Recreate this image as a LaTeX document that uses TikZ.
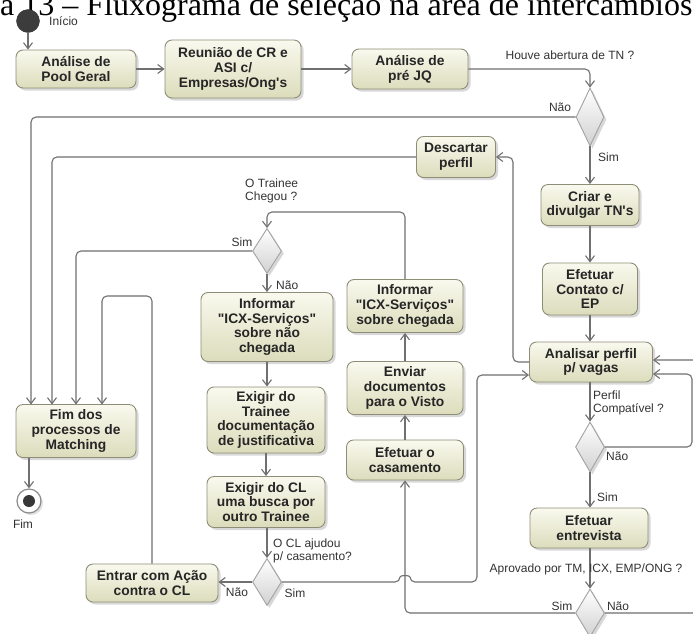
\documentclass[tikz,border=0pt]{standalone}
\usepackage{fontspec}
\setmainfont{Liberation Sans}
\newfontfamily\titlefont{Liberation Serif}
\usetikzlibrary{arrows.meta,shapes.geometric,shadows,calc}

\definecolor{boxtop}{HTML}{F9F9EE}
\definecolor{boxbot}{HTML}{DCDCBC}
\definecolor{boxline}{HTML}{8E8E78}
\definecolor{decline}{HTML}{A2A2A2}
\definecolor{flowcol}{HTML}{707070}
\definecolor{startcol}{HTML}{3C3C3C}

\newcommand\boxfont{\bfseries\fontsize{13.8}{14.8}\selectfont}
\newcommand\lblfont{\fontsize{12}{13}\selectfont}
\newcommand\dq{\textquotedbl}
\newcommand\sq{\textquotesingle}

\tikzset{
  act/.style={rectangle, rounded corners=7pt, draw=boxline, line width=0.9pt,
    top color=boxtop, bottom color=boxbot, align=center, inner sep=2pt,
    font=\boxfont, text=black!85,
    drop shadow={shadow xshift=2.5pt, shadow yshift=-2.5pt, opacity=0.3}},
  dec/.style={diamond, draw=decline, line width=0.9pt, inner sep=0pt,
    top color=white, bottom color=black!18,
    drop shadow={shadow xshift=2.5pt, shadow yshift=-2.5pt, opacity=0.3}},
  flow/.style={draw=flowcol, line width=1.1pt, rounded corners=5pt,
    -{Straight Barb[length=6pt,width=9pt]}},
  lbl/.style={font=\lblfont, text=black!80, inner sep=0pt},
}

\begin{document}
\begin{tikzpicture}[x=1pt,y=-1pt]
\useasboundingbox (0,0) rectangle (693,633);
\clip (0,0) rectangle (693,633);
\fill[white] (0,0) rectangle (693,633);

% caption line
\node[anchor=base west, inner sep=0pt, font=\titlefont\fontsize{32}{32}\selectfont]
  (caption) at (0,15.5) {a 13 – Fluxograma de seleção na área de intercâmbios};

% start and end
\node[circle, fill=startcol, draw=black!80, minimum size=23pt, inner sep=0pt] (start) at (28,21) {};
\node[lbl, anchor=west] (tinicio) at (49,21) {Início};
\node[circle, draw=black!45, line width=1.2pt, fill=white, minimum size=24pt, inner sep=0pt,
  drop shadow={shadow xshift=2pt, shadow yshift=-2pt, opacity=0.25}] (fimc) at (29,501) {};
\node[circle, fill=black!78, minimum size=12pt, inner sep=0pt] (fimdot) at (fimc) {};
\node[lbl] (tfim) at (23,524) {Fim};

% activities
\node[act, minimum width=120pt, minimum height=38pt] (pool) at (76,69) {Análise de\\Pool Geral};
\node[act, minimum width=136pt, minimum height=58pt] (reuniao) at (233,69) {Reunião de CR e\\ASI c/\\Empresas/Ong\sq s};
\node[act, minimum width=116pt, minimum height=40pt] (prejq) at (410,69) {Análise de\\pré JQ};
\node[act, minimum width=98pt, minimum height=41pt] (criar) at (590,205) {Criar e\\divulgar TN\sq s};
\node[act, minimum width=95pt, minimum height=52pt] (contato) at (590,289) {Efetuar\\Contato c/\\EP};
\node[act, minimum width=123pt, minimum height=40pt] (analisar) at (591,362) {Analisar perfil\\p/ vagas};
\node[act, minimum width=118pt, minimum height=40pt] (entrevista) at (589,528) {Efetuar\\entrevista};
\node[act, minimum width=79pt, minimum height=41pt] (descartar) at (456,157) {Descartar\\perfil};
\node[act, minimum width=132pt, minimum height=69pt] (infonao) at (267,327) {Informar\\\dq ICX-Serviços\dq\\sobre não\\chegada};
\node[act, minimum width=118pt, minimum height=66pt] (exigirt) at (266,420) {Exigir do\\Trainee\\documentação\\de justificativa};
\node[act, minimum width=118pt, minimum height=51pt] (exigircl) at (266,502) {Exigir do CL\\uma busca por\\outro Trainee};
\node[act, minimum width=116pt, minimum height=53pt] (infosim) at (405,306) {Informar\\\dq ICX-Serviços\dq\\sobre chegada};
\node[act, minimum width=116pt, minimum height=53pt] (enviar) at (405,388) {Enviar\\documentos\\para o Visto};
\node[act, minimum width=117pt, minimum height=40pt] (casamento) at (405,460) {Efetuar o\\casamento};
\node[act, minimum width=120pt, minimum height=53pt] (fim) at (76,431) {Fim dos\\processos de\\Matching};
\node[act, minimum width=132pt, minimum height=38pt] (entrar) at (152,583) {Entrar com Ação\\contra o CL};

% decisions
\node[dec, minimum width=28pt, minimum height=58pt] (d1) at (590,117) {};
\node[dec, minimum width=29pt, minimum height=45pt] (d2) at (267,251) {};
\node[dec, minimum width=29pt, minimum height=47pt] (d3) at (267,582) {};
\node[dec, minimum width=29pt, minimum height=50pt] (d4) at (590,447) {};
\node[dec, minimum width=29pt, minimum height=48pt] (d5) at (590,613) {};

% entry points on the final activity and bend points
\coordinate (f1) at (31,404.5);
\coordinate (f2) at (52,404.5);
\coordinate (f3) at (76,404.5);
\coordinate (f4) at (102,404.5);
\coordinate (j1) at (102,296);
\coordinate (j2) at (267,212);
\coordinate (j3) at (513,362);
\coordinate (aL) at ($(analisar.west)+(0,13)$);
\coordinate (aR) at ($(analisar.east)+(0,12)$);
\coordinate (aR2) at ($(analisar.east)+(0,-2)$);

% main line
\draw[flow] (start.south) -- (start.south |- pool.north);
\draw[flow] (pool.east) -- (reuniao.west |- pool.east);
\draw[flow] (reuniao.east |- prejq.west) -- (prejq.west);
\draw[flow] (prejq.east) -| (d1.north);
\draw[flow] (d1.south) -- (criar.north);
\draw[flow] (criar.south) -- (contato.north);
\draw[flow] (contato.south) -- (contato.south |- analisar.north);
\draw[flow] (analisar.south -| d4.north) -- (d4.north);
\draw[flow] (d4.south) -- (d4.south |- entrevista.north);
\draw[flow] (entrevista.south -| d5.north) -- (d5.north);

% loops back to the profile analysis
\draw[flow] (d4.east) -- (692,447) |- (aR);
\draw[flow] (d5.east) -- (705,613) |- (aR2);
\draw[flow] (analisar.west) -- (j3) |- (descartar.east);

% ending branches
\draw[flow] (d1.west) -| (f1);
\draw[flow] (descartar.west) -| (f2);
\draw[flow] (d2.west) -| (f3);
\draw[flow] (entrar.north) |- (j1) -- (f4);
\draw[flow] (fim.south -| fimc.north) -- (fimc.north);

% arrival check
\draw[flow] (d2.south) -- (infonao.north);
\draw[flow] (infonao.south) -- (infonao.south |- exigirt.north);
\draw[flow] (exigirt.south) -- (exigirt.south |- exigircl.north);
\draw[flow] (exigircl.south -| d3.north) -- (d3.north);
\draw[flow] (d3.west) -- (entrar.east |- d3.west);
\draw[flow] (d3.east) -- (400,582) .. controls (400,575) and (410,575) .. (410,582)
  -- (477,582) |- (aL);

% marriage branch
\draw[flow] (d5.west) -| (casamento.south);
\draw[flow] (casamento.north) -- (enviar.south);
\draw[flow] (enviar.north) -- (infosim.south);
\draw[flow] (infosim.north) |- (j2) -- (d2.north);

% guard labels
\node[lbl] (lhouve) at (570,55) {Houve abertura de TN ?};
\node[lbl] (ld1n) at (560,107) {Não};
\node[lbl, anchor=west] (ld1s) at (598,157) {Sim};
\node[lbl, anchor=west, align=left] (lchegou) at (245,191) {O Trainee\\Chegou ?};
\node[lbl] (ld2s) at (242,242) {Sim};
\node[lbl, anchor=west] (ld2n) at (276,285) {Não};
\node[lbl, anchor=west, align=left] (lcl) at (273,551) {O CL ajudou\\p/ casamento?};
\node[lbl] (ld3n) at (237,592) {Não};
\node[lbl] (ld3s) at (295,593) {Sim};
\node[lbl, anchor=west, align=left] (lperfil) at (593,403) {Perfil\\Compatível ?};
\node[lbl, anchor=west] (ld4n) at (606,456) {Não};
\node[lbl, anchor=west] (ld4s) at (597,497) {Sim};
\node[lbl] (laprov) at (586,569) {Aprovado por TM, ICX, EMP/ONG ?};
\node[lbl] (ld5s) at (562,606) {Sim};
\node[lbl] (ld5n) at (618,606) {Não};
\end{tikzpicture}
\end{document}
